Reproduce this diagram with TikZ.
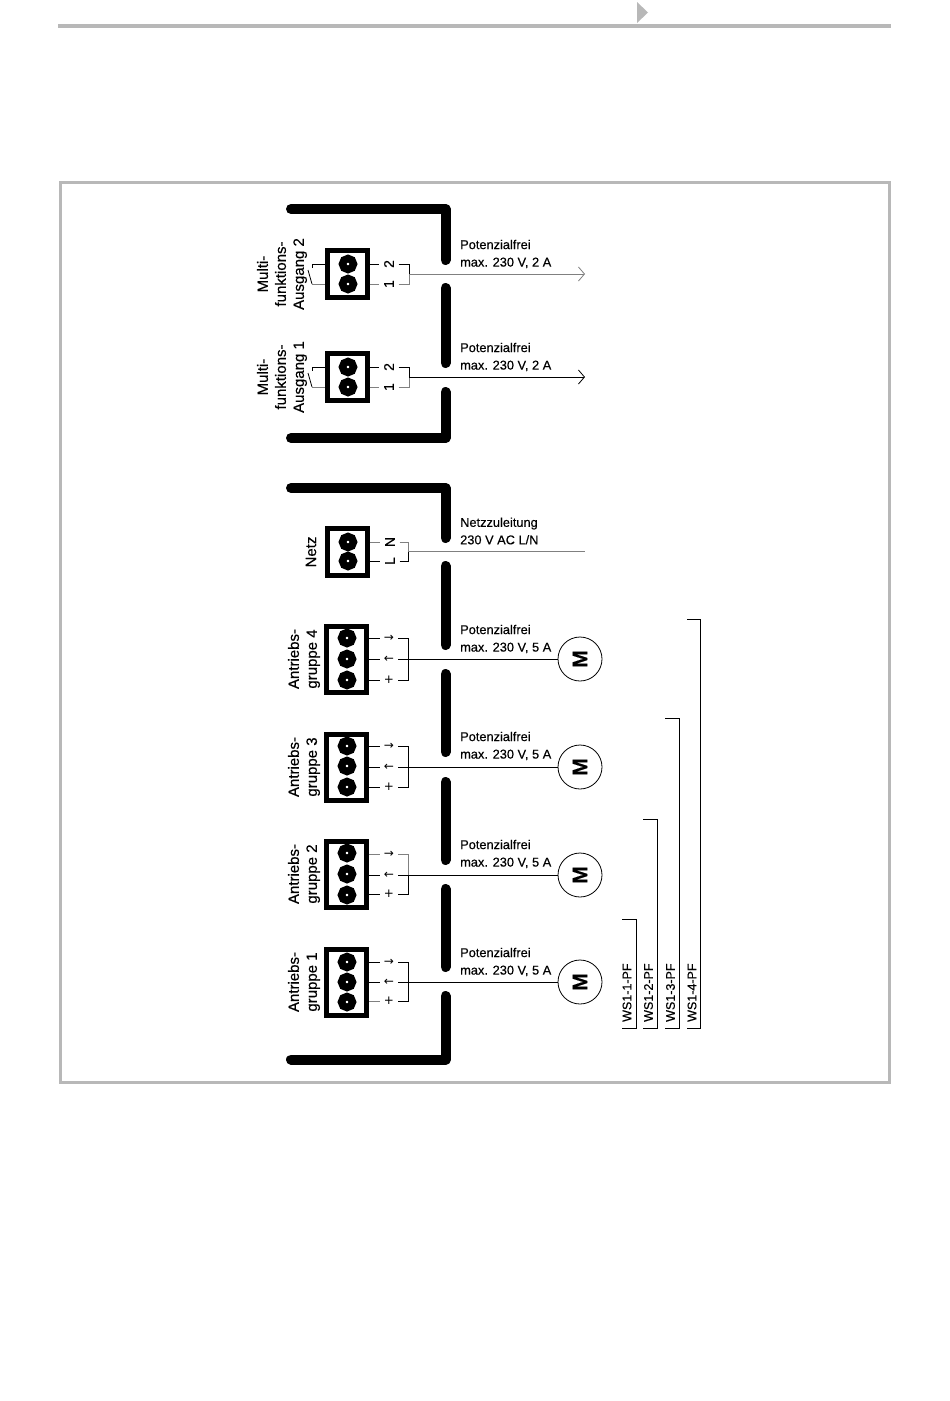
\documentclass[tikz,border=0pt]{standalone}
\usepackage{fontspec}
\setmainfont[FakeBold=0.4]{Liberation Sans}
\newfontfamily\signfont{DejaVu Sans}
\usetikzlibrary{arrows.meta,positioning,calc}
\definecolor{rule gray}{gray}{0.72}
\definecolor{line gray}{gray}{0.50}
\tikzstyle{opaque}=[draw=rule gray,line width=3pt]
\tikzstyle{thick bar}=[line width=10pt,line cap=round,line join=round]
\tikzstyle{box term}=[draw,line width=5pt,inner sep=0pt,minimum width=40pt]
\tikzstyle{box two}=[box term,minimum height=47pt]
\tikzstyle{box three}=[box term,minimum height=66pt]
\tikzstyle{screw dark}=[circle,draw=black,line width=7.5pt,fill=white,inner sep=0pt,minimum size=11pt]
\tikzstyle{wire}=[line width=.8pt]
\tikzstyle{wire gray}=[line width=.8pt,draw=line gray]
\tikzstyle{term index}=[inner sep=0pt,font=\fontsize{14}{14}\selectfont,rotate=90,minimum height=19pt]
\tikzstyle{term sign}=[inner sep=0pt,font=\signfont\fontsize{12}{12}\selectfont,minimum width=18pt]
\tikzstyle{info text}=[inner sep=0pt,anchor=west,align=left,font=\fontsize{12.8}{17.5}\selectfont]
\tikzstyle{group text}=[inner sep=0pt,rotate=90,align=center,font=\fontsize{15}{18}\selectfont]
\tikzstyle{motor}=[circle,draw,line width=.8pt,inner sep=0pt,minimum size=44pt,font=\fontsize{21}{21}\selectfont\bfseries]
\tikzstyle{type text}=[inner sep=0pt,rotate=90,anchor=west,font=\fontsize{12.5}{12.5}\selectfont]
\begin{document}
\begin{tikzpicture}[x=1pt,y=-1pt,>={Straight Barb[length=6pt,width=14pt]}]
    \useasboundingbox (0,0) rectangle (950,1401);

    % Page head and frame
    \draw[rule gray,line width=3.5pt] (58,26) -- (891,26);
    \fill[rule gray] (637,2) -- (648,12.5) -- (637,23) -- cycle;
    \draw[opaque] (60,182) rectangle (889,1082);

    % Bars
    \draw[thick bar] (291,209) -- (445.5,209) -- (445.5,260);
    \draw[thick bar] (445.5,288) -- (445.5,363);
    \draw[thick bar] (445.5,392) -- (445.5,438) -- (291,438);
    \draw[thick bar] (291,488) -- (445.5,488) -- (445.5,538);
    \draw[thick bar] (445.5,566) -- (445.5,645);
    \draw[thick bar] (445.5,674) -- (445.5,752);
    \draw[thick bar] (445.5,782) -- (445.5,860);
    \draw[thick bar] (445.5,889) -- (445.5,967);
    \draw[thick bar] (445.5,996) -- (445.5,1059.5) -- (291,1059.5);

    % Multifunction output 2
    \draw (347,274) node[box two] (mf2) {};
    \draw (348,264) node[screw dark] (mf2a) {};
    \draw (348,284) node[screw dark] (mf2b) {};
    \draw (389,264) node[term index] (mf2i) {2};
    \draw (389,284) node[term index] (mf2j) {1};
    \coordinate (mf2s) at (409,274);
    \coordinate (mf2e) at (585,274);
    \coordinate (mf2p) at (312,264);
    \coordinate (mf2q) at (312,284);
    \coordinate (mf2r) at (308,270);
    \draw[wire] (mf2.east |- mf2a) -- (mf2i.north) (mf2i.south) -| (mf2s);
    \draw[wire gray] (mf2.east |- mf2b) -- (mf2j.north) (mf2j.south) -| (mf2s);
    \draw[wire gray,->] (mf2s) -- (mf2e);
    \draw[wire] (mf2.west |- mf2a) -- (mf2p) -- ++(0,4);
    \draw[wire gray] (mf2.west |- mf2b) -- (mf2q);
    \draw[wire] (mf2r) -- (mf2q);
    \draw (282,274) node[group text] (mf2n) {Multi-\\funktions-\\Ausgang 2};
    \draw (460,254) node[info text] (mf2t) {Potenzialfrei\\max. 230 V, 2 A};

    % Multifunction output 1
    \draw (347,377) node[box two] (mf1) {};
    \draw (348,367) node[screw dark] (mf1a) {};
    \draw (348,387) node[screw dark] (mf1b) {};
    \draw (389,367) node[term index] (mf1i) {2};
    \draw (389,387) node[term index] (mf1j) {1};
    \coordinate (mf1s) at (409,377);
    \coordinate (mf1e) at (585,377);
    \coordinate (mf1p) at (312,367);
    \coordinate (mf1q) at (312,387);
    \coordinate (mf1r) at (308,373);
    \draw[wire] (mf1.east |- mf1a) -- (mf1i.north) (mf1i.south) -| (mf1s);
    \draw[wire gray] (mf1.east |- mf1b) -- (mf1j.north) (mf1j.south) -| (mf1s);
    \draw[wire,->] (mf1s) -- (mf1e);
    \draw[wire] (mf1.west |- mf1a) -- (mf1p) -- ++(0,4);
    \draw[wire gray] (mf1.west |- mf1b) -- (mf1q);
    \draw[wire] (mf1r) -- (mf1q);
    \draw (282,377) node[group text] (mf1n) {Multi-\\funktions-\\Ausgang 1};
    \draw (460,357) node[info text] (mf1t) {Potenzialfrei\\max. 230 V, 2 A};

    % Mains
    \draw (347.5,552) node[box two] (net) {};
    \draw (348,542) node[screw dark] (neta) {};
    \draw (348,561) node[screw dark] (netb) {};
    \draw (390,542) node[term index] (neti) {N};
    \draw (390,561) node[term index] (netj) {L};
    \coordinate (nets) at (408,551);
    \coordinate (nete) at (585,551);
    \draw[wire gray] (net.east |- neta) -- (neti.north) (neti.south) -| (nets);
    \draw[wire] (net.east |- netb) -- (netj.north) (netj.south) -| (nets);
    \draw[wire gray] (nets) -- (nete);
    \draw (311,552) node[group text] (netn) {Netz};
    \draw (460,531) node[info text] (nett) {Netzzuleitung\\230 V AC L/N};

    % Drive group 4
    \draw (346.5,659) node[box three] (ag4) {};
    \draw (347,638) node[screw dark] (ag4a) {};
    \draw (347,659) node[screw dark] (ag4b) {};
    \draw (347,680) node[screw dark] (ag4c) {};
    \draw (389,638) node[term sign] (ag4i) {→};
    \draw (389,659) node[term sign] (ag4j) {←};
    \draw (389,680) node[term sign] (ag4k) {+};
    \coordinate (ag4s) at (408,659);
    \draw (580,659) node[motor] (ag4m) {\rotatebox{90}{M}};
    \draw[wire] (ag4.east |- ag4a) -- (ag4i.west) (ag4i.east) -| (ag4s);
    \draw[wire] (ag4.east |- ag4b) -- (ag4j.west) (ag4j.east) -- (ag4m);
    \draw[wire] (ag4.east |- ag4c) -- (ag4k.west) (ag4k.east) -| (ag4s);
    \draw (304,659) node[group text] (ag4n) {Antriebs-\\gruppe 4};
    \draw (460,639) node[info text] (ag4t) {Potenzialfrei\\max. 230 V, 5 A};

    % Drive group 3
    \draw (346.5,767) node[box three] (ag3) {};
    \draw (347,746) node[screw dark] (ag3a) {};
    \draw (347,766) node[screw dark] (ag3b) {};
    \draw (347,787) node[screw dark] (ag3c) {};
    \draw (389,746) node[term sign] (ag3i) {→};
    \draw (389,767) node[term sign] (ag3j) {←};
    \draw (389,787) node[term sign] (ag3k) {+};
    \coordinate (ag3s) at (408,767);
    \draw (580,767) node[motor] (ag3m) {\rotatebox{90}{M}};
    \draw[wire] (ag3.east |- ag3a) -- (ag3i.west) (ag3i.east) -| (ag3s);
    \draw[wire] (ag3.east |- ag3j) -- (ag3j.west) (ag3j.east) -- (ag3m);
    \draw[wire] (ag3.east |- ag3c) -- (ag3k.west) (ag3k.east) -| (ag3s);
    \draw (304,767) node[group text] (ag3n) {Antriebs-\\gruppe 3};
    \draw (460,746) node[info text] (ag3t) {Potenzialfrei\\max. 230 V, 5 A};

    % Drive group 2
    \draw (346.5,874) node[box three] (ag2) {};
    \draw (347,853) node[screw dark] (ag2a) {};
    \draw (347,874) node[screw dark] (ag2b) {};
    \draw (347,895) node[screw dark] (ag2c) {};
    \draw (389,854) node[term sign] (ag2i) {→};
    \draw (389,875) node[term sign] (ag2j) {←};
    \draw (389,894) node[term sign] (ag2k) {+};
    \coordinate (ag2s) at (408,875);
    \draw (580,875) node[motor] (ag2m) {\rotatebox{90}{M}};
    \draw[wire gray] (ag2.east |- ag2i) -- (ag2i.west) (ag2i.east) -| (ag2s);
    \draw[wire] (ag2.east |- ag2j) -- (ag2j.west) (ag2j.east) -- (ag2m);
    \draw[wire] (ag2.east |- ag2k) -- (ag2k.west) (ag2k.east) -| (ag2s);
    \draw (304,874) node[group text] (ag2n) {Antriebs-\\gruppe 2};
    \draw (460,854) node[info text] (ag2t) {Potenzialfrei\\max. 230 V, 5 A};

    % Drive group 1
    \draw (346.5,982) node[box three] (ag1) {};
    \draw (347,962) node[screw dark] (ag1a) {};
    \draw (347,982) node[screw dark] (ag1b) {};
    \draw (347,1002) node[screw dark] (ag1c) {};
    \draw (389,962) node[term sign] (ag1i) {→};
    \draw (389,982) node[term sign] (ag1j) {←};
    \draw (389,1001) node[term sign] (ag1k) {+};
    \coordinate (ag1s) at (408,982);
    \draw (580,982) node[motor] (ag1m) {\rotatebox{90}{M}};
    \draw[wire] (ag1.east |- ag1i) -- (ag1i.west) (ag1i.east) -| (ag1s);
    \draw[wire] (ag1.east |- ag1j) -- (ag1j.west) (ag1j.east) -- (ag1m);
    \draw[wire gray] (ag1.east |- ag1k) -- (ag1k.west);
    \draw[wire] (ag1k.east) -| (ag1s);
    \draw (304,982) node[group text] (ag1n) {Antriebs-\\gruppe 1};
    \draw (460,962) node[info text] (ag1t) {Potenzialfrei\\max. 230 V, 5 A};

    % Type brackets
    \coordinate (ws1a) at (622,1028);
    \coordinate (ws1b) at (636,919);
    \coordinate (ws2a) at (643,1028);
    \coordinate (ws2b) at (657,819);
    \coordinate (ws3a) at (665,1028);
    \coordinate (ws3b) at (679,718);
    \coordinate (ws4a) at (687,1028);
    \coordinate (ws4b) at (700.5,619);
    \draw[wire] (ws1a) -| (ws1b) -- (ws1a |- ws1b);
    \draw[wire] (ws2a) -| (ws2b) -- (ws2a |- ws2b);
    \draw[wire] (ws3a) -| (ws3b) -- (ws3a |- ws3b);
    \draw[wire] (ws4a) -| (ws4b) -- (ws4a |- ws4b);
    \draw (627,1022) node[type text] (ws1) {WS1-1-PF};
    \draw (648.5,1022) node[type text] (ws2) {WS1-2-PF};
    \draw (670.5,1022) node[type text] (ws3) {WS1-3-PF};
    \draw (692,1022) node[type text] (ws4) {WS1-4-PF};

\end{tikzpicture}
\end{document}
